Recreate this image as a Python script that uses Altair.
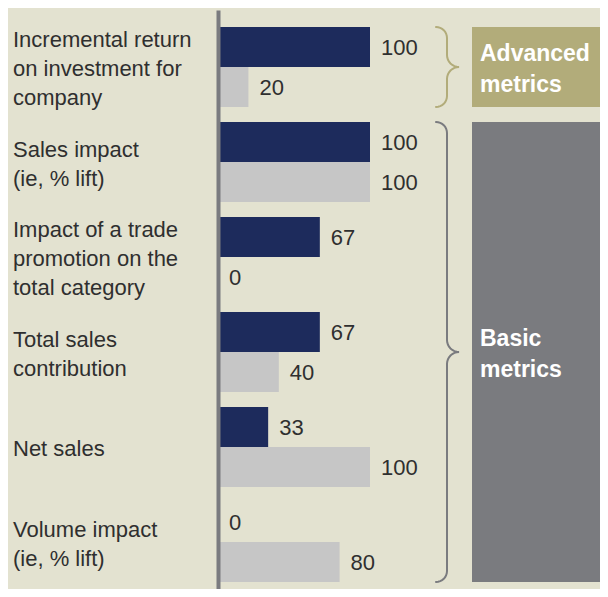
import math
import altair as alt
import pandas as pd

# ---------------- data ----------------
categories = [
    "Incremental return\non investment for\ncompany",
    "Sales impact\n(ie, % lift)",
    "Impact of a trade\npromotion on the\ntotal category",
    "Total sales\ncontribution",
    "Net sales",
    "Volume impact\n(ie, % lift)",
]
series_names = ["Series 1", "Series 2"]
series1_values = [100, 100, 67, 67, 33, 0]
series2_values = [20, 100, 0, 40, 100, 80]

group_names = ["Advanced\nmetrics", "Basic\nmetrics"]
group_first = [categories[0], categories[1]]
group_last = [categories[0], categories[5]]
group_middle = [categories[0], categories[3]]

# ---------------- style ----------------
BG = "#e3e2d0"
NAVY = "#1d2b5c"
LIGHT = "#c6c6c6"
OLIVE = "#b2ac7a"
SLATE = "#7a7b7f"
TEXT = "#2f2f2f"
FONT = "Liberation Sans"

W, H = 382, 579          # plot area
STEP, BAND = 95, 80      # row pitch / row height in px
TOP = 17                 # first row offset inside plot
LINE = 14.5              # half of the label line spacing
PAD_IN = (STEP - BAND) / STEP
PAD_OUT = (H / STEP - len(categories) + PAD_IN) / 2
ALIGN = TOP / (H - STEP * (len(categories) - PAD_IN))

y_scale = alt.Scale(type="band", domain=categories, paddingInner=PAD_IN,
                    paddingOuter=PAD_OUT, align=ALIGN)
x_scale = alt.Scale(domain=[0, W / 1.52], nice=False, zero=True)
off_scale = alt.Scale(type="band", domain=series_names, paddingInner=0, paddingOuter=0)
slots = ["-2", "-1", "0", "1", "2"]
slot_scale = alt.Scale(type="band", domain=slots, paddingInner=0,
                       paddingOuter=(BAND / LINE - len(slots)) / 2)

df = pd.DataFrame({
    "category": categories * 2,
    "series": [series_names[0]] * len(categories) + [series_names[1]] * len(categories),
    "value": series1_values + series2_values,
})

# one row per label line, slot = position of the line around the row centre
label_rows = []
for c in categories:
    lines = c.split("\n")
    for i, ln in enumerate(lines):
        label_rows.append({"category": c, "line": ln, "slot": str(2 * i - (len(lines) - 1))})
label_df = pd.DataFrame(label_rows)

base = alt.Chart(df)

bars = base.mark_bar().encode(
    x=alt.X("value:Q", scale=x_scale, axis=None),
    y=alt.Y("category:N", scale=y_scale, sort=categories,
            axis=alt.Axis(title=None, labels=False, ticks=False, grid=False,
                          domainColor=SLATE, domainWidth=4, zindex=1)),
    yOffset=alt.YOffset("series:N", scale=off_scale, sort=series_names),
    color=alt.Color("series:N", scale=alt.Scale(domain=series_names, range=[NAVY, LIGHT]), legend=None),
)

labels = base.mark_text(align="left", baseline="middle", dx=11, dy=1,
                        fontSize=22, font=FONT, color=TEXT).encode(
    x=alt.X("value:Q", scale=x_scale, axis=None),
    y=alt.Y("category:N", scale=y_scale, sort=categories, axis=None),
    yOffset=alt.YOffset("series:N", scale=off_scale, sort=series_names),
    text=alt.Text("value:Q"),
)

cat_labels = alt.Chart(label_df).mark_text(align="left", baseline="middle", dy=2,
                                           fontSize=22, font=FONT, color=TEXT).encode(
    x=alt.value(-205),
    y=alt.Y("category:N", scale=y_scale, sort=categories, axis=None),
    yOffset=alt.YOffset("slot:N", scale=slot_scale, sort=slots),
    text="line:N",
)

groups_df = pd.DataFrame({
    "name": group_names,
    "first": group_first,
    "last": group_last,
    "middle": group_middle,
})
gbase = alt.Chart(groups_df)

boxes = gbase.mark_rect().encode(
    x=alt.value(254), x2=alt.value(W),
    y=alt.Y("first:N", scale=y_scale, bandPosition=0, axis=None),
    y2=alt.Y2(field="last", bandPosition=1),
    color=alt.Color("name:N", scale=alt.Scale(domain=group_names, range=[OLIVE, SLATE]), legend=None),
)

box_text = gbase.mark_text(align="left", baseline="middle", lineBreak="\n", lineHeight=31,
                           fontSize=23, font=FONT, fontWeight="bold", color="white", dy=-13).encode(
    x=alt.value(262),
    y=alt.Y("middle:N", scale=y_scale, axis=None),
    text="name:N",
)

# ---------------- braces (decoration, in plot px) ----------------
def brace(name, top, bottom, x_end=218, x_stem=229, x_tip=241, r_end=11, r_mid=12, n=8):
    pts = []
    mid = (top + bottom) / 2
    for k in range(n + 1):  # top hook
        t = math.pi / 2 * k / n
        pts.append((x_end + r_end * math.sin(t), top + r_end - r_end * math.cos(t)))
    for k in range(n + 1):  # down to tip
        t = math.pi / 2 * k / n
        pts.append((x_tip - r_mid * math.cos(t), mid - r_mid + r_mid * math.sin(t)))
    for k in range(n + 1):  # away from tip
        t = math.pi / 2 * k / n
        pts.append((x_tip - r_mid * math.sin(t), mid + r_mid - r_mid * math.cos(t)))
    for k in range(n + 1):  # bottom hook
        t = math.pi / 2 * k / n
        pts.append((x_stem - r_end + r_end * math.cos(t), bottom - r_end + r_end * math.sin(t)))
    return [{"name": name, "i": i, "bx": p[0], "by": p[1]} for i, p in enumerate(pts)]

band_top = [TOP + STEP * categories.index(c) for c in group_first]
band_bot = [TOP + STEP * categories.index(c) + BAND for c in group_last]
brace_rows = []
for nm, t, b in zip(group_names, band_top, band_bot):
    brace_rows += brace(nm, t, b)
brace_df = pd.DataFrame(brace_rows)

braces = alt.Chart(brace_df).mark_line(strokeWidth=2, strokeCap="round").encode(
    x=alt.X("bx:Q", scale=alt.Scale(domain=[0, W], nice=False, zero=False), axis=None),
    y=alt.Y("by:Q", scale=alt.Scale(domain=[0, H], reverse=True, nice=False, zero=False), axis=None),
    order="i:Q",
    detail="name:N",
    color=alt.Color("name:N", scale=alt.Scale(domain=group_names, range=[OLIVE, SLATE]), legend=None),
)

chart = alt.layer(bars, labels, cat_labels, boxes, box_text, braces).resolve_scale(
    x="independent", y="independent", color="independent", yOffset="independent"
).properties(
    width=W, height=H,
    autosize=alt.AutoSizeParams(type="none"),
    padding={"left": 210, "top": 2, "right": 0, "bottom": 0},
    background=BG,
).configure_view(stroke=None)

chart.save("out.html", embed_options={"renderer": "svg", "actions": False})
